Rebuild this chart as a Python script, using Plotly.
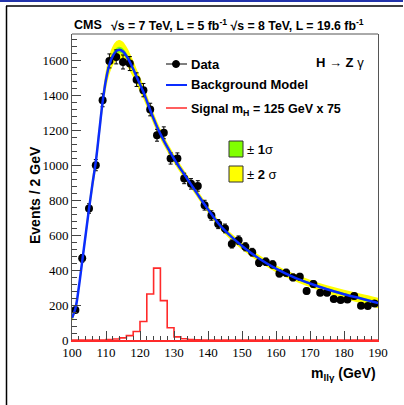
import plotly.graph_objects as go

# ---------------- data ----------------
bin_centers = [101, 103, 105, 107, 109, 111, 113, 115, 117, 119, 121, 123, 125, 127, 129,
               131, 133, 135, 137, 139, 141, 143, 145, 147, 149, 151, 153, 155, 157, 159,
               161, 163, 165, 167, 169, 171, 173, 175, 177, 179, 181, 183, 185, 187, 189]
data_counts = [171, 467, 752, 1000, 1371, 1596, 1619, 1590, 1581, 1489,
               1429, 1318, 1171, 1185, 1038, 1038, 924, 893, 881, 771,
               712, 663, 638, 549, 571, 533, 502, 442, 448, 432,
               381, 385, 358, 362, 280, 320, 270, 270, 234, 229,
               232, 251, 196, 194, 209]
data_err = [13, 22, 27, 32, 37, 40, 40, 40, 40, 39,
            38, 36, 34, 34, 32, 32, 30, 30, 30, 28,
            27, 26, 25, 23, 24, 23, 22, 21, 21, 21,
            20, 20, 19, 19, 17, 18, 16, 16, 15, 15,
            15, 16, 14, 14, 14]
signal_x75 = [0, 0, 0, 0, 0, 2, 6, 12, 25, 49, 106, 263, 411, 225, 70,
              18, 7, 3, 1, 0, 0, 0, 0, 0, 0, 0, 0, 0, 0, 0,
              0, 0, 0, 0, 0, 0, 0, 0, 0, 0, 0, 0, 0, 0, 0]

bkg_mass = [100, 101, 102, 103, 104, 105, 106, 107, 108, 109, 110, 111, 112, 113, 114,
            115, 116, 117, 118, 119, 121, 123, 125, 127, 129, 131, 133, 135, 137, 139,
            141, 143, 145, 147, 150, 155, 160, 165, 170, 175, 180, 185, 190]
bkg_model = [126, 180, 300, 450, 600, 750, 890, 1020, 1190, 1360, 1490, 1575, 1625, 1652, 1660,
             1650, 1625, 1590, 1550, 1505, 1418, 1315, 1220, 1140, 1070, 1005, 948, 890, 832, 775,
             720, 668, 625, 588, 538, 466, 408, 361, 323, 290, 262, 237, 212]
band_2sigma = [18, 22, 27, 32, 36, 40, 43, 46, 49, 52, 54, 55, 56, 56, 56,
               55, 53, 51, 48, 45, 40, 35, 31, 28, 26, 24, 23, 22, 21, 21,
               20, 20, 20, 20, 20, 20, 20, 21, 22, 23, 25, 27, 30]
band_1sigma = [6, 7, 8, 9, 10, 11, 12, 13, 14, 15, 16, 17, 17, 17, 17,
               17, 16, 15, 14, 13, 11, 10, 9, 8, 8, 7, 7, 7, 6, 6,
               6, 6, 6, 6, 6, 6, 6, 6, 6, 7, 7, 8, 9]

x_ticks = [100, 110, 120, 130, 140, 150, 160, 170, 180, 190]
y_ticks = [0, 200, 400, 600, 800, 1000, 1200, 1400, 1600]

# ---------------- layout geometry (pixels) ----------------
W, H = 404, 405
L, R, T, B = 72, 378, 34, 340


def px(x):
    return (x - L) / (R - L)


def py(y):
    return (B - y) / (B - T)


SANS = "Liberation Sans"
SERIF = "Liberation Serif"
BLUE = "#0a2cff"
RED = "#ff2a2a"
YELLOW = "#ffff00"
GREEN = "#80ff00"

fig = go.Figure()

up2 = [v + e for v, e in zip(bkg_model, band_2sigma)]
lo2 = [v - e for v, e in zip(bkg_model, band_2sigma)]
up1 = [v + e for v, e in zip(bkg_model, band_1sigma)]
lo1 = [v - e for v, e in zip(bkg_model, band_1sigma)]

fig.add_trace(go.Scatter(x=bkg_mass, y=lo2, mode="lines", line=dict(width=0, shape="spline"),
                         hoverinfo="skip", showlegend=False))
fig.add_trace(go.Scatter(x=bkg_mass, y=up2, mode="lines", line=dict(width=0, shape="spline"),
                         fill="tonexty", fillcolor=YELLOW, hoverinfo="skip", showlegend=False))
fig.add_trace(go.Scatter(x=bkg_mass, y=lo1, mode="lines", line=dict(width=0, shape="spline"),
                         hoverinfo="skip", showlegend=False))
fig.add_trace(go.Scatter(x=bkg_mass, y=up1, mode="lines", line=dict(width=0, shape="spline"),
                         fill="tonexty", fillcolor=GREEN, hoverinfo="skip", showlegend=False))

# signal histogram (steps at bin edges)
sig_x = [100] + bin_centers + [190]
sig_y = [signal_x75[0]] + signal_x75 + [signal_x75[-1]]
fig.add_trace(go.Scatter(x=sig_x, y=sig_y, mode="lines",
                         line=dict(color=RED, width=1.6, shape="hvh"),
                         showlegend=False))

# data points
fig.add_trace(go.Scatter(x=bin_centers, y=data_counts, mode="markers",
                         marker=dict(color="black", size=8),
                         error_y=dict(type="data", array=data_err, color="black",
                                      thickness=1, width=2),
                         showlegend=False))

# background model
fig.add_trace(go.Scatter(x=bkg_mass, y=bkg_model, mode="lines",
                         line=dict(color=BLUE, width=2.5, shape="spline"),
                         showlegend=False))

fig.update_xaxes(range=[100, 190], tickvals=x_ticks, ticks="inside", ticklen=9,
                 tickcolor="#444", showline=True, linecolor=RED, linewidth=1.5,
                 mirror=False, showgrid=False, zeroline=False,
                 tickfont=dict(family=SERIF, size=13, color="black"),
                 minor=dict(dtick=2, ticks="inside", ticklen=4.5, tickcolor="#444",
                            showgrid=False))
fig.update_yaxes(range=[0, 1750], tickvals=y_ticks, ticks="inside", ticklen=9,
                 tickcolor="#444", showline=True, linecolor="#555", linewidth=1,
                 mirror=True, showgrid=False, zeroline=False,
                 tickfont=dict(family=SERIF, size=13, color="black"),
                 minor=dict(dtick=40, ticks="inside", ticklen=4.5, tickcolor="#444",
                            showgrid=False))

shapes = [
    # outer frame lines
    dict(type="line", xref="paper", yref="paper", x0=px(0), x1=px(403), y0=py(1), y1=py(1),
         line=dict(color="#2233aa", width=2)),
    dict(type="line", xref="paper", yref="paper", x0=px(6), x1=px(403), y0=py(6), y1=py(6),
         line=dict(color="black", width=1.5)),
    dict(type="line", xref="paper", yref="paper", x0=px(6.5), x1=px(6.5), y0=py(6), y1=py(H),
         line=dict(color="black", width=1.5)),
    # top frame of the plot area
    dict(type="line", xref="paper", yref="paper", x0=0, x1=1, y0=1, y1=1,
         line=dict(color="#555", width=1)),
    # legend lines
    dict(type="line", xref="paper", yref="paper", x0=px(166), x1=px(187), y0=py(64), y1=py(64),
         line=dict(color="black", width=1)),
    dict(type="circle", xref="paper", yref="paper", x0=px(172.5), x1=px(179.5), y0=py(67.5), y1=py(60.5),
         fillcolor="black", line=dict(color="black", width=1)),
    dict(type="line", xref="paper", yref="paper", x0=px(166), x1=px(187), y0=py(85), y1=py(85),
         line=dict(color=BLUE, width=2)),
    dict(type="line", xref="paper", yref="paper", x0=px(166), x1=px(187), y0=py(108), y1=py(108),
         line=dict(color=RED, width=1.5)),
    # sigma boxes
    dict(type="rect", xref="paper", yref="paper", x0=px(229), x1=px(243), y0=py(157), y1=py(141),
         fillcolor=GREEN, line=dict(color="#333", width=1)),
    dict(type="rect", xref="paper", yref="paper", x0=px(229), x1=px(243), y0=py(182), y1=py(166),
         fillcolor=YELLOW, line=dict(color="#333", width=1)),
]


def ann(text, x, y, size=13, xanchor="left", family=SANS, angle=0):
    return dict(text=text, x=px(x), y=py(y), xref="paper", yref="paper", showarrow=False,
                xanchor=xanchor, yanchor="middle", textangle=angle,
                font=dict(family=family, size=size, color="black"))


annotations = [
    ann("<b>CMS</b>", 72, 25, size=12.5),
    ann("<b>√s = 7 TeV, L = 5 fb<sup>-1</sup> √s = 8 TeV, L = 19.6 fb<sup>-1</sup></b>", 109, 25, size=12.3),
    ann("<b>H → Z</b> γ", 366, 62, xanchor="right"),
    ann("<b>Data</b>", 189, 64),
    ann("<b>Background Model</b>", 189, 85),
    ann("<b>Signal m<sub>H</sub> = 125 GeV x 75</b>", 189, 110, size=12.5),
    ann("± <b>1</b>σ", 245, 149),
    ann("± <b>2</b> σ", 245, 174),
    ann("<b>Events / 2 GeV</b>", 35, 195, size=14, xanchor="center", angle=-90),
    ann("<b>m<sub>llγ</sub> (GeV)</b>", 378, 374, size=14, xanchor="right"),
]

fig.update_layout(width=W, height=H, margin=dict(l=L, r=W - R, t=T, b=H - B),
                  paper_bgcolor="white", plot_bgcolor="white",
                  font=dict(family=SERIF),
                  shapes=shapes, annotations=annotations, showlegend=False)

fig.write_html("out.html", config={"displayModeBar": False})
